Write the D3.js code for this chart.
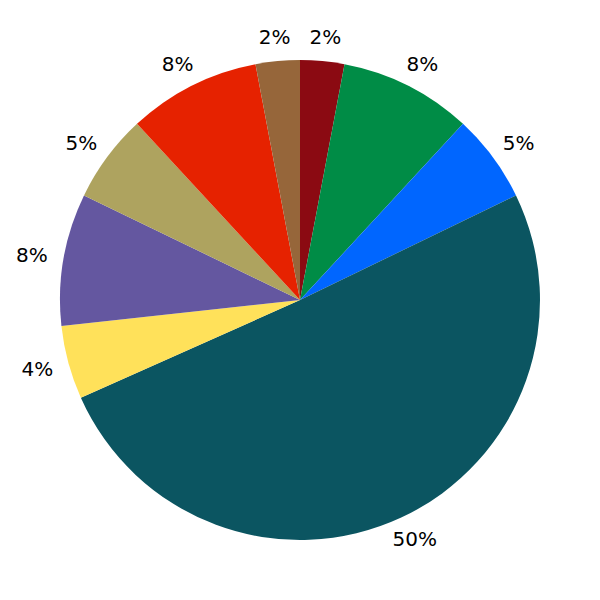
<!DOCTYPE html>
<html>
<head>
<meta charset="utf-8">
<script src="https://cdn.jsdelivr.net/npm/d3@7"></script>
<style>
  html, body { margin: 0; padding: 0; background: #fff; }
  svg { display: block; }
</style>
</head>
<body>
<svg id="chart" width="600" height="600"></svg>
<script>
const categories = ["A", "B", "C", "D", "E", "F", "G", "H", "I"];
const values = [3, 9, 6, 51, 5, 9, 6, 9, 3];
const colors = ["#8b0a12", "#008c46", "#0066ff", "#0b5561", "#ffe15a", "#6457a0", "#aea35f", "#e62200", "#96663a"];

const width = 600, height = 600;
const cx = 300, cy = 300, R = 240;
const total = d3.sum(values);

const svg = d3.select("#chart");
const g = svg.append("g").attr("transform", `translate(${cx},${cy})`);

const pie = d3.pie().sort(null).value(d => d.value);
const arcs = pie(categories.map((c, i) => ({ cat: c, value: values[i], color: colors[i] })));
const arc = d3.arc().innerRadius(0).outerRadius(R);

g.selectAll("path.slice")
  .data(arcs)
  .join("path")
  .attr("class", "slice")
  .attr("d", arc)
  .attr("fill", d => d.data.color);

g.selectAll("text.label")
  .data(arcs)
  .join("text")
  .attr("class", "label")
  .attr("x", d => 272 * Math.sin((d.startAngle + d.endAngle) / 2))
  .attr("y", d => -264 * Math.cos((d.startAngle + d.endAngle) / 2))
  .attr("text-anchor", "middle")
  .attr("dominant-baseline", "central")
  .attr("font-family", "DejaVu Sans")
  .attr("font-size", 20)
  .attr("fill", "#000")
  .text(d => Math.floor(d.data.value / total * 100) + "%");
</script>
</body>
</html>
